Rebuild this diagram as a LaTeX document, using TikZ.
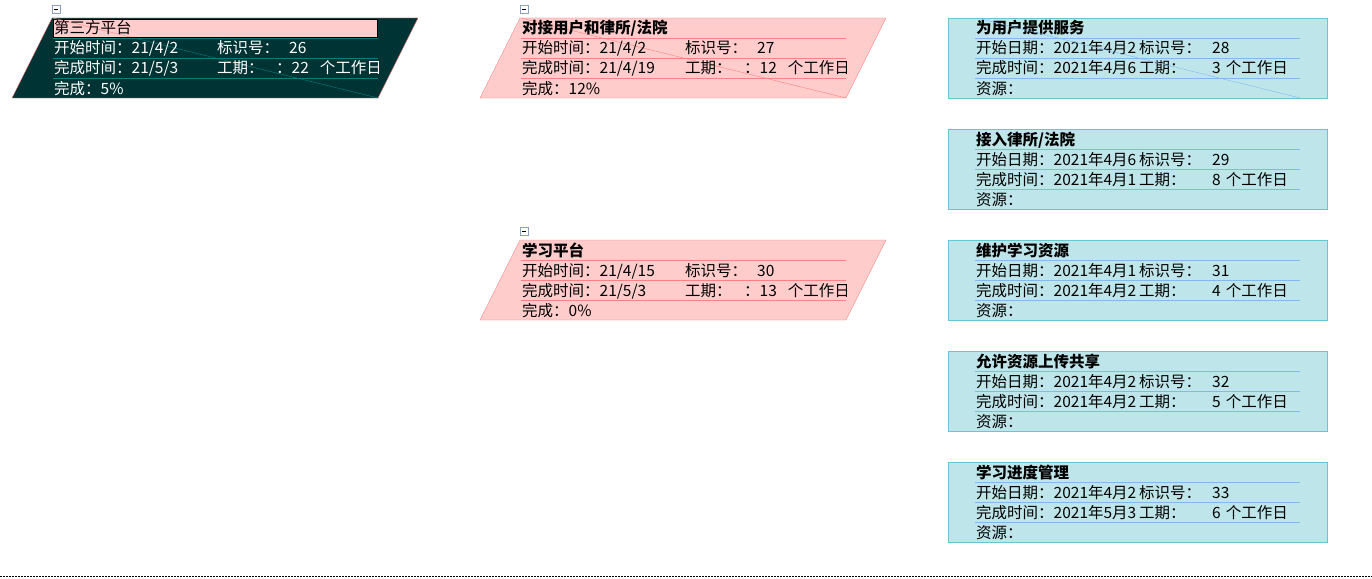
\documentclass[tikz,border=0pt]{standalone}
\usepackage{fontspec}
\setmainfont{Noto Sans CJK SC}
\usepackage{xcolor}

\definecolor{deepteal}{RGB}{0,51,51}
\definecolor{tealline}{RGB}{0,128,128}
\definecolor{pinkfill}{RGB}{255,204,204}
\definecolor{redline}{RGB}{255,128,128}
\definecolor{cyanfill}{RGB}{190,230,234}
\definecolor{cyanedge}{RGB}{100,200,210}
\definecolor{blueline}{RGB}{128,184,240}
\definecolor{markedge}{RGB}{140,160,192}

\begin{document}
\begin{tikzpicture}[x=1pt, y=-1pt, font=\fontsize{15.5}{18}\selectfont,
  cell/.style={anchor=base west, inner sep=0pt},
  head/.style={cell, font=\fontsize{15.5}{18}\selectfont\bfseries},
  marker/.style={draw=markedge, fill=white, line width=0.8pt}]
  \useasboundingbox (0,0) rectangle (1372,578);
  % summary task 26 (selected)
  \begin{scope}
    \draw[marker] (52,5) rectangle (60,13); \draw (54,9) -- (58,9);
    \draw[draw=redline, fill=deepteal] (52,18) -- (418,18) -- (378,98) -- (12,98) -- cycle;
    \foreach \yy in {38,58,78} \draw[tealline] (53,\yy) -- (378,\yy);
    \draw[tealline] (53,18) -- (378,98);
    \draw[fill=pinkfill] (53,19) rectangle (377,37);
    \begin{scope}
      \clip (53,19) rectangle (377,37);
      \draw[redline] (53,18) -- (378,98);
    \end{scope}
    \begin{scope}
      \clip (53,18) rectangle (378,98);
      \node[cell] (t26) at (54,34) {第三方平台};
      \node[cell, white] (t26s) at (54,54) {开始时间：21/4/2};
      \node[cell, white] (t26i) at (217,54) {标识号：};
      \node[cell, white] (t26n) at (289,54) {26};
      \node[cell, white] (t26f) at (54,74) {完成时间：21/5/3};
      \node[cell, white] (t26d) at (217,74) {工期：};
      \node[cell, white] (t26v) at (276,74) {：22\hspace{11pt}个工作日};
      \node[cell, white] (t26p) at (54,94) {完成：5\%};
    \end{scope}
  \end{scope}
  % summary task 27
  \begin{scope}[shift={(468,0)}]
    \draw[marker] (52,5) rectangle (60,13); \draw (54,9) -- (58,9);
    \draw[draw=redline, fill=pinkfill] (52,18) -- (418,18) -- (378,98) -- (12,98) -- cycle;
    \foreach \yy in {38,58,78} \draw[redline] (53,\yy) -- (378,\yy);
    \draw[redline] (53,18) -- (378,98);
    \begin{scope}
      \clip (53,18) rectangle (378,98);
      \node[head] (t27) at (54,34) {对接用户和律所/法院};
      \node[cell] (t27s) at (54,54) {开始时间：21/4/2};
      \node[cell] (t27i) at (217,54) {标识号：};
      \node[cell] (t27n) at (289,54) {27};
      \node[cell] (t27f) at (54,74) {完成时间：21/4/19};
      \node[cell] (t27d) at (217,74) {工期：};
      \node[cell] (t27v) at (276,74) {：12\hspace{11pt}个工作日};
      \node[cell] (t27p) at (54,94) {完成：12\%};
    \end{scope}
  \end{scope}
  % summary task 30
  \begin{scope}[shift={(468,222)}]
    \draw[marker] (52,5) rectangle (60,13); \draw (54,9) -- (58,9);
    \draw[draw=redline, fill=pinkfill] (52,18) -- (418,18) -- (378,98) -- (12,98) -- cycle;
    \foreach \yy in {38,58,78} \draw[redline] (53,\yy) -- (378,\yy);
    \begin{scope}
      \clip (53,18) rectangle (378,98);
      \node[head] (t30) at (54,34) {学习平台};
      \node[cell] (t30s) at (54,54) {开始时间：21/4/15};
      \node[cell] (t30i) at (217,54) {标识号：};
      \node[cell] (t30n) at (289,54) {30};
      \node[cell] (t30f) at (54,74) {完成时间：21/5/3};
      \node[cell] (t30d) at (217,74) {工期：};
      \node[cell] (t30v) at (276,74) {：13\hspace{11pt}个工作日};
      \node[cell] (t30p) at (54,94) {完成：0\%};
    \end{scope}
  \end{scope}
  % subtasks
  \foreach \i/\ttl/\sday/\id/\fday/\dur in {0/为用户提供服务/2/28/4月6/3, 1/{接入律所/法院}/6/29/4月1/8,
      2/维护学习资源/1/31/4月2/4, 3/允许资源上传共享/2/32/4月2/5, 4/学习进度管理/2/33/5月3/6} {
    \begin{scope}[shift={(0,111*\i)}]
      \draw[draw=cyanedge, fill=cyanfill] (948,18) rectangle (1327,98);
      \foreach \yy in {38,58,78} \draw[blueline] (975,\yy) -- (1300,\yy);
      \node[head] (t\id) at (976,34) {\ttl};
      \node[cell] (t\id s) at (976,54) {开始日期：2021年4月\sday};
      \node[cell] (t\id i) at (1139,54) {标识号：};
      \node[cell] (t\id n) at (1212,54) {\id};
      \node[cell] (t\id f) at (976,74) {完成时间：2021年\fday};
      \node[cell] (t\id d) at (1139,74) {工期：};
      \node[cell] (t\id v) at (1212,74) {\dur\hspace{5pt}个工作日};
      \node[cell] (t\id r) at (976,94) {资源：};
    \end{scope}
  }
  \draw[blueline] (977,18) -- (1300,98);
  % page break
  \draw[dash pattern=on 2pt off 1pt] (0,576) -- (1372,576);
\end{tikzpicture}
\end{document}
